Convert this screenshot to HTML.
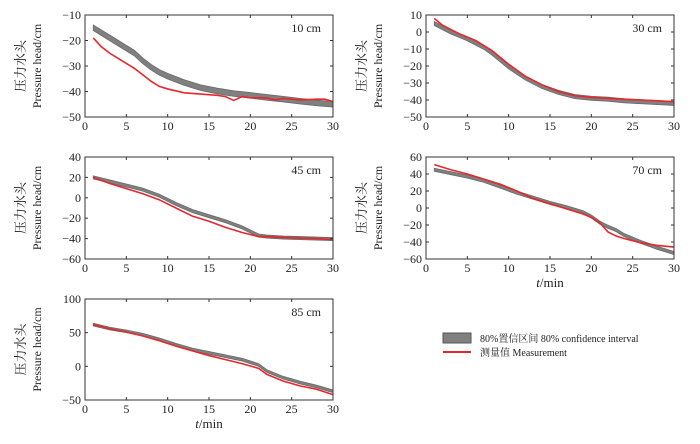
<!DOCTYPE html>
<html><head><meta charset="utf-8"><style>
html,body{margin:0;padding:0;background:#fff;width:700px;height:444px;overflow:hidden}
svg text{font-family:"Liberation Serif","Noto Serif CJK SC",serif;fill:#222}
</style></head><body>
<svg id="c" width="700" height="444"></svg>
<script>
const times10=[1,2,3,4,5,6,7,8,9,10,12,14,16,18,20,22,24,26,28,30];
const band10=[-15,-17,-19,-21,-23,-25,-28,-30.5,-32.5,-34,-36.5,-38.5,-39.8,-40.8,-41.5,-42.3,-43,-43.8,-44.5,-45];
const redT10=[1,2,3,4,5,6,7,8,9,10,12,14,16,17,18,19,20,22,23,24,26,28,29,30];
const red10=[-19,-22.5,-25,-27,-29,-31,-33.5,-36,-38,-39,-40.5,-41,-41.5,-42,-43.5,-42,-42.5,-42.5,-43.3,-42.7,-43.3,-43,-43,-44];
const times30=[1,2,3,4,5,6,7,8,9,10,12,14,16,18,20,22,24,26,28,30];
const band30=[5,2.5,0,-2,-4,-6.5,-9,-12.5,-16.5,-20.5,-27,-32,-35.5,-38,-39,-39.5,-40.5,-41,-41.5,-42];
const red30=[8,4,1.5,-1,-3,-5,-8,-11,-15,-19,-26,-31,-35,-37.5,-38.5,-39,-39.5,-40,-40.5,-41];
const times45=[1,3,5,7,9,11,13,15,17,19,21,22,24,26,28,30];
const band45=[20,16,12,8,2,-6,-13,-18,-23,-29,-37,-38,-39,-39.5,-40,-40.5];
const red45=[20,14,9,4,-2,-10,-18,-23,-29,-34,-38,-38,-39,-39.5,-40,-41];
const times70=[1,3,5,7,9,11,13,15,17,19,20,21,22,23,24,26,28,30];
const band70=[45,41,37,32,25,18,12,6,1,-5,-10,-17,-22,-26,-32,-40,-47,-53];
const red70=[51,45,40,34,28,20,11,5,-1,-7,-11,-17,-28,-33,-36,-41,-44,-46];
const times85=[1,3,5,7,9,11,13,15,17,19,21,22,23,24,26,28,30];
const band85=[62,56,52,47,40,32,25,20,15,10,2,-7,-12,-17,-24,-30,-37];
const red85=[62,56,51,45,38,30,23,16,10,4,-3,-12,-17,-22,-29,-34,-42];
const xTicks=[0,5,10,15,20,25,30];

const NS="http://www.w3.org/2000/svg";
const svg=document.getElementById('c');
function el(tag,attrs,parent){const e=document.createElementNS(NS,tag);for(const k in attrs)e.setAttribute(k,attrs[k]);(parent||svg).appendChild(e);return e;}
function panel(name,x0,y0,x1,y1,ymin,ymax,ystep,label,bt,bv,rt,rv,bw,showX){
  const g=el('g',{});
  
  
  const sx=t=>x0+(t/30)*(x1-x0);
  const sy=v=>y1-(v-ymin)/(ymax-ymin)*(y1-y0);
  let up=bt.map((t,i)=>sx(t)+','+sy(bv[i]+bw)).join(' ');
  let lo=bt.map((t,i)=>sx(t)+','+sy(bv[i]-bw)).reverse().join(' ');
  const b=el('polygon',{points:up+' '+lo,fill:'#808080',stroke:'#6a6a6a','stroke-width':0.8},g);
  
  
  const r=el('polyline',{points:rt.map((t,i)=>sx(t)+','+sy(rv[i])).join(' '),fill:'none',stroke:'#e8262b','stroke-width':1.6},g);
  
  
  el('rect',{x:x0,y:y0,width:x1-x0,height:y1-y0,fill:'none',stroke:'#333','stroke-width':1},g);
  for(const t of xTicks){const X=sx(t);
    el('line',{x1:X,x2:X,y1:y1,y2:y1-3,stroke:'#333'},g);el('line',{x1:X,x2:X,y1:y0,y2:y0+3,stroke:'#333'},g);
    const tx=el('text',{x:X,y:y1+13,'text-anchor':'middle','font-size':12},g);tx.textContent=t;
    }
  for(let v=ymin;v<=ymax+0.01;v+=ystep){const Y=sy(v);
    el('line',{x1:x0,x2:x0+3,y1:Y,y2:Y,stroke:'#333'},g);el('line',{x1:x1,x2:x1-3,y1:Y,y2:Y,stroke:'#333'},g);
    const ty=el('text',{x:x0-4,y:Y+4,'text-anchor':'end','font-size':12},g);ty.textContent=v<0?'\u2212'+(-v):v;
    }
  const lb=el('text',{x:x1-12,y:y0+17,'text-anchor':'end','font-size':12},g);lb.textContent=label;
  
  const cy=(y0+y1)/2;
  const a=el('text',{x:0,y:0,transform:`translate(${x0-60},${cy}) rotate(-90)`,'text-anchor':'middle','font-size':13,fill:'#666'},g);a.textContent='压力水头';
  
  const a2=el('text',{x:0,y:0,transform:`translate(${x0-44},${cy}) rotate(-90)`,'text-anchor':'middle','font-size':12},g);a2.textContent='Pressure head/cm';
  
  if(showX){const xt=el('text',{x:(x0+x1)/2,y:y1+28,'text-anchor':'middle','font-size':13},g);
    xt.innerHTML='<tspan font-style="italic">t</tspan>/min';
    }
}
panel('panel-10cm',85,15,333,117,-50,-10,10,'10 cm',times10,band10,redT10,red10,1.1,false);
panel('panel-30cm',426,15,674,117,-50,10,10,'30 cm',times30,band30,times30,red30,1.2,false);
panel('panel-45cm',85,157,333,259,-60,40,20,'45 cm',times45,band45,times45,red45,1.5,false);
panel('panel-70cm',426,157,674,259,-60,60,20,'70 cm',times70,band70,times70,red70,1.8,true);
panel('panel-85cm',85,299,333,400,-50,100,50,'85 cm',times85,band85,times85,red85,2,true);
const lg=el('g',{});


el('rect',{x:443,y:333,width:28,height:10,fill:'#808080',stroke:'#555'},lg);
el('line',{x1:443,x2:471,y1:352,y2:352,stroke:'#e8262b','stroke-width':2},lg);
const t1=el('text',{x:480,y:342,'font-size':10},lg);t1.textContent='80%置信区间  80% confidence interval';

const t2=el('text',{x:480,y:356,'font-size':10},lg);t2.textContent='测量值  Measurement';

</script>
</body></html>
